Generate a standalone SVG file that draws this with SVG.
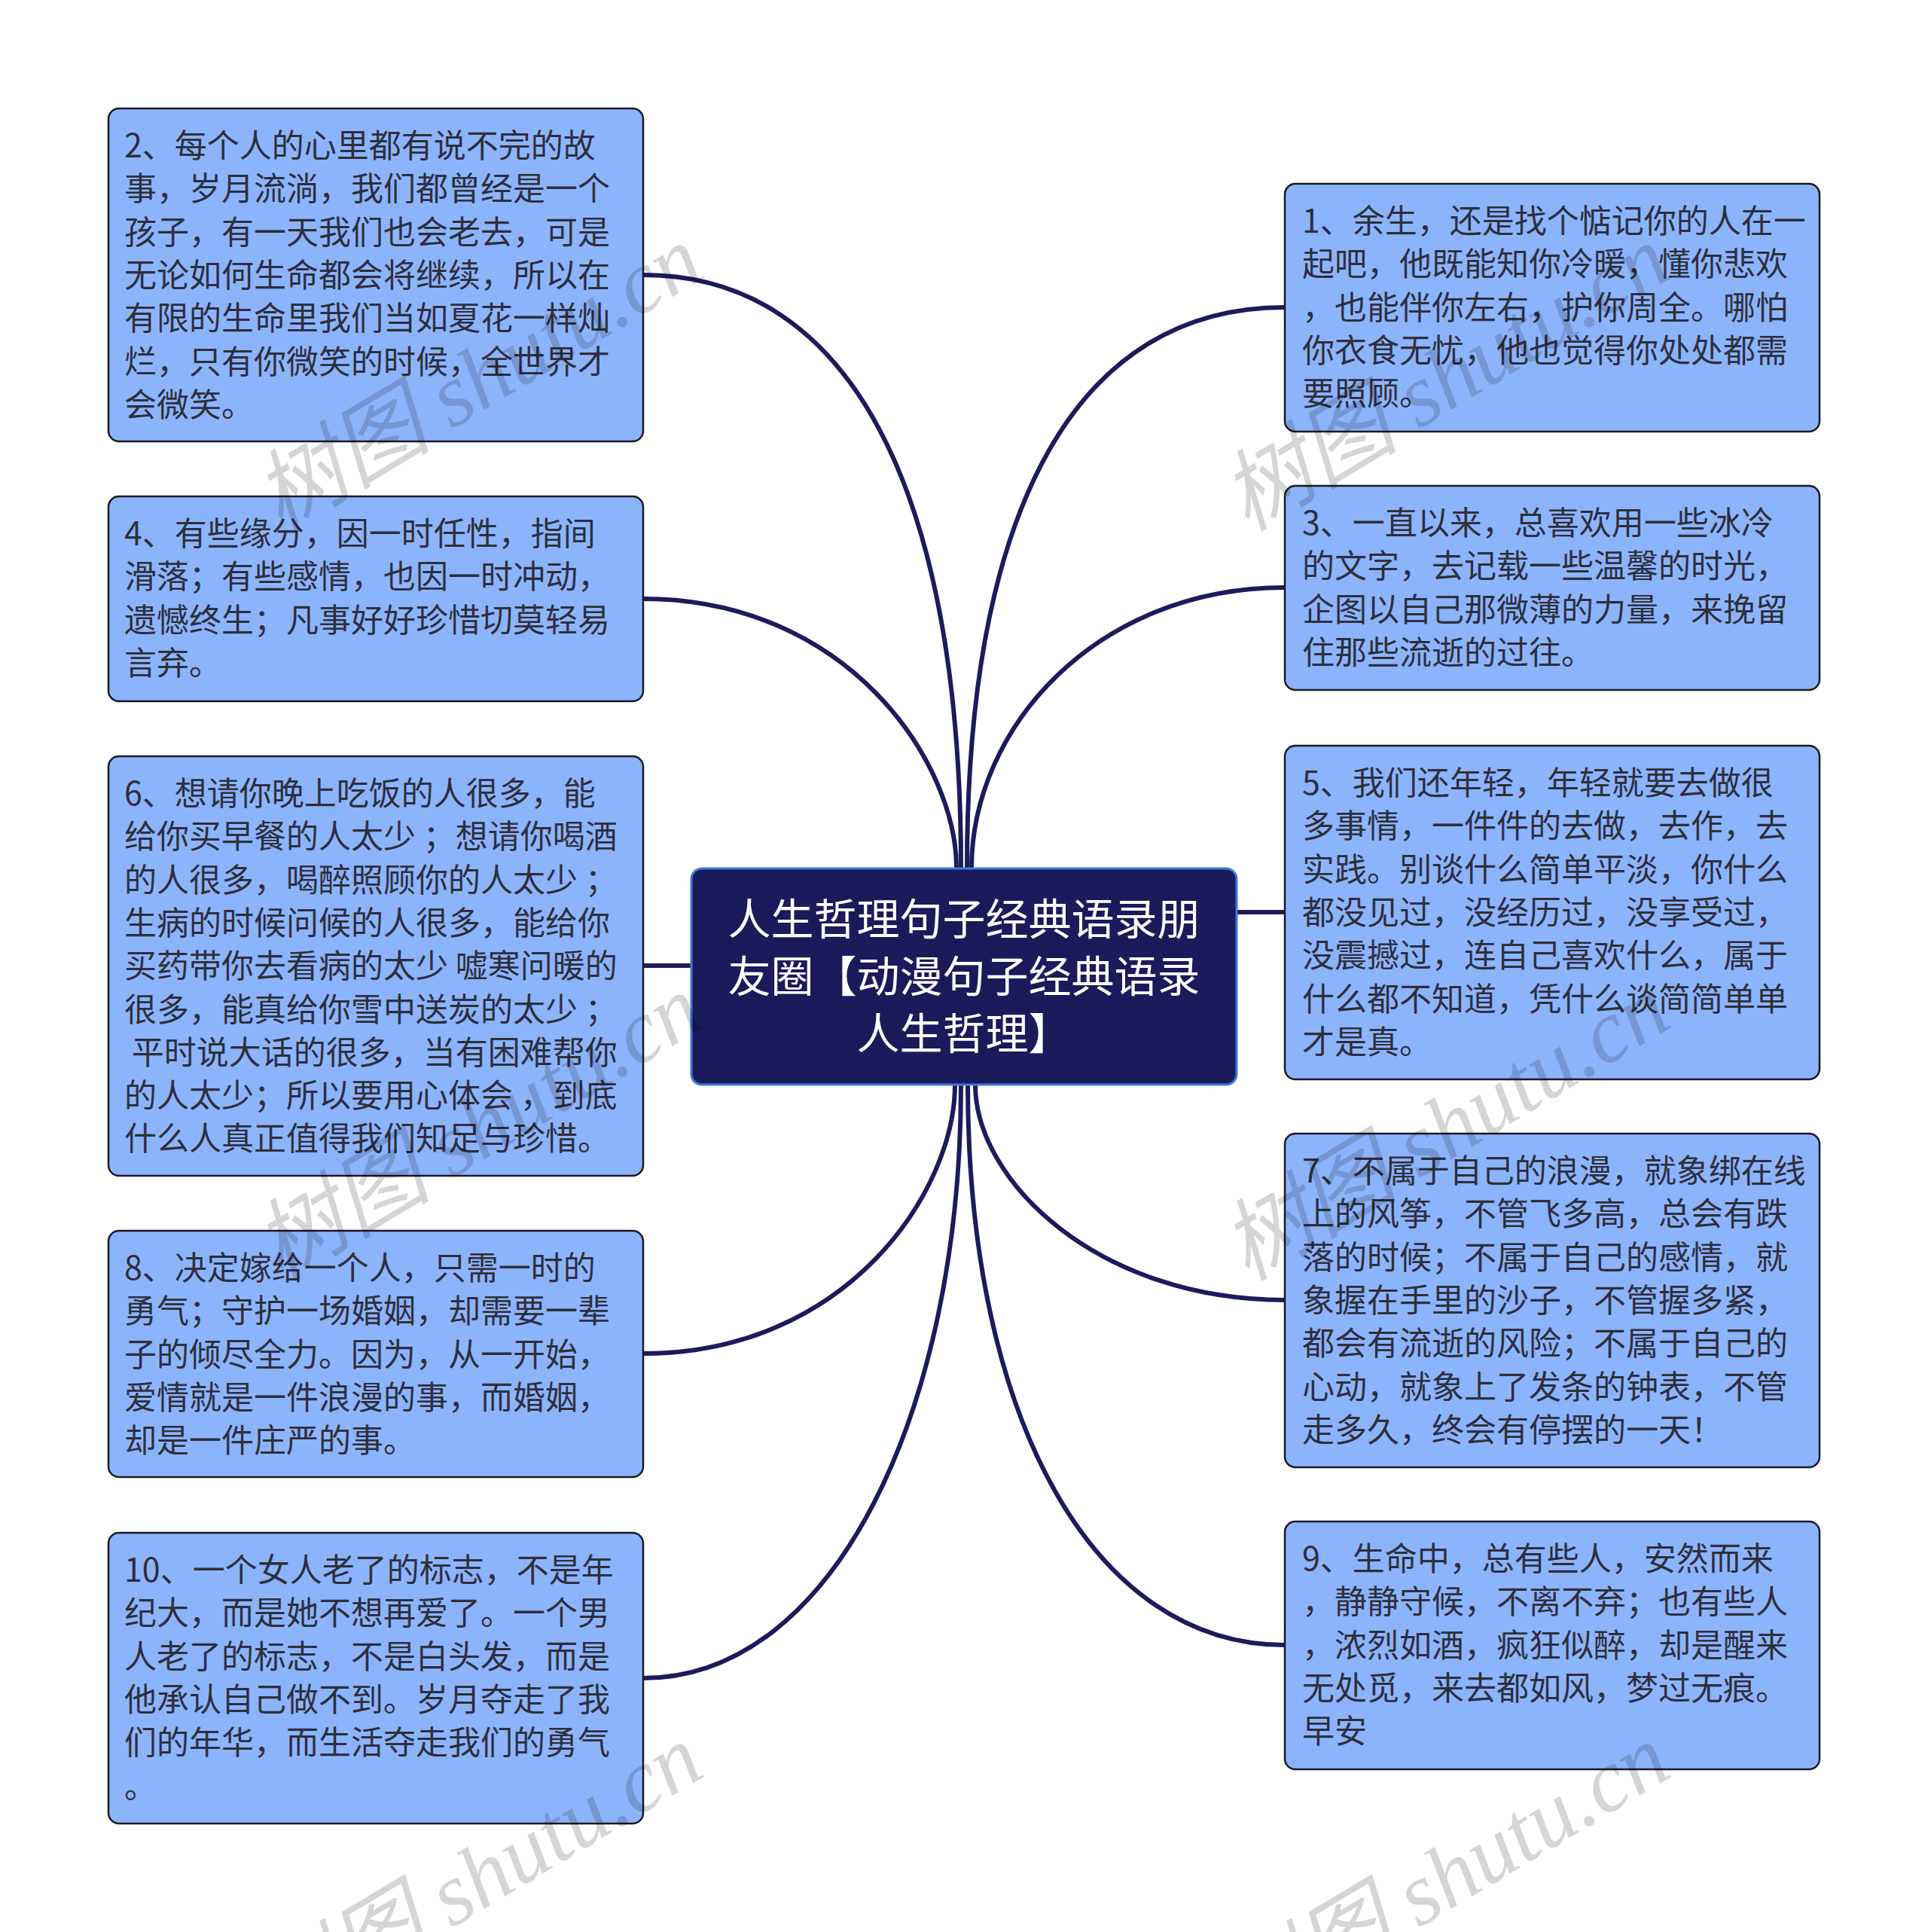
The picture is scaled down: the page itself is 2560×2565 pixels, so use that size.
<svg xmlns="http://www.w3.org/2000/svg" width="2560" height="2565" viewBox="0 0 2560 2565">
<style>
.edge{fill:none;stroke:#1c1b5c;stroke-width:6;stroke-linecap:round}
.box{fill:#8cb4fc;stroke:#1a1a24;stroke-width:2.5}
.t{font-family:"Noto Sans CJK SC","Noto Sans",sans-serif;font-size:43px;fill:#2e2f3c}
.ct{font-family:"Noto Sans CJK SC","Noto Sans",sans-serif;font-size:57px;fill:#ffffff;text-anchor:middle}
.wm{font-family:"Liberation Serif","Noto Sans CJK SC",serif;font-style:italic;font-size:118px;fill:#000;opacity:0.16}
</style>
<rect width="2560" height="2565" fill="#ffffff"/>
<g id="connectors">
<path class="edge" d="M 854 365 C 1128 365, 1276 650, 1276 1153"/>
<path class="edge" d="M 854 795 C 1124 795, 1270 1010, 1270 1153"/>
<path class="edge" d="M 854 1282 L 920 1282"/>
<path class="edge" d="M 854 1797 C 1123 1797, 1268 1583, 1268 1440"/>
<path class="edge" d="M 854 2228 C 1107 2228, 1276 1873, 1276 1440"/>
<path class="edge" d="M 1706 408 C 1432 408, 1284 669, 1284 1153"/>
<path class="edge" d="M 1706 780 C 1456 780, 1290 966, 1290 1153"/>
<path class="edge" d="M 1640 1211 L 1706 1211"/>
<path class="edge" d="M 1706 1726 C 1459 1726, 1295 1569, 1295 1440"/>
<path class="edge" d="M 1706 2184 C 1453 2184, 1285 1886, 1285 1440"/>
</g>
<g id="center">
<rect x="918" y="1153" width="724" height="287" rx="14" fill="#1b1a5b" stroke="#3b7ddd" stroke-width="3"/>
<text class="ct" x="1280" y="1241">人生哲理句子经典语录朋</text>
<text class="ct" x="1280" y="1317">友圈【动漫句子经典语录</text>
<text class="ct" x="1280" y="1393">人生哲理】</text>
</g>
<g id="node2">
<rect class="box" x="144" y="144" width="710" height="442" rx="14"/>
<text class="t" x="165" y="209">2、每个人的心里都有说不完的故</text>
<text class="t" x="165" y="266.3">事，岁月流淌，我们都曾经是一个</text>
<text class="t" x="165" y="323.6">孩子，有一天我们也会老去，可是</text>
<text class="t" x="165" y="380.9">无论如何生命都会将继续，所以在</text>
<text class="t" x="165" y="438.2">有限的生命里我们当如夏花一样灿</text>
<text class="t" x="165" y="495.5">烂，只有你微笑的时候，全世界才</text>
<text class="t" x="165" y="552.8">会微笑。</text>
</g>
<g id="node4">
<rect class="box" x="144" y="659" width="710" height="272" rx="14"/>
<text class="t" x="165" y="724">4、有些缘分，因一时任性，指间</text>
<text class="t" x="165" y="781.3">滑落；有些感情，也因一时冲动，</text>
<text class="t" x="165" y="838.6">遗憾终生；凡事好好珍惜切莫轻易</text>
<text class="t" x="165" y="895.9">言弃。</text>
</g>
<g id="node6">
<rect class="box" x="144" y="1004" width="710" height="557" rx="14"/>
<text class="t" x="165" y="1069">6、想请你晚上吃饭的人很多，能</text>
<text class="t" x="165" y="1126.3">给你买早餐的人太少 ；想请你喝酒</text>
<text class="t" x="165" y="1183.6">的人很多，喝醉照顾你的人太少 ；</text>
<text class="t" x="165" y="1240.9">生病的时候问候的人很多，能给你</text>
<text class="t" x="165" y="1298.2">买药带你去看病的太少 嘘寒问暖的</text>
<text class="t" x="165" y="1355.5">很多，能真给你雪中送炭的太少 ；</text>
<text class="t" x="165" y="1412.8" xml:space="preserve"> 平时说大话的很多，当有困难帮你</text>
<text class="t" x="165" y="1470.1">的人太少；所以要用心体会 ，到底</text>
<text class="t" x="165" y="1527.4">什么人真正值得我们知足与珍惜。</text>
</g>
<g id="node8">
<rect class="box" x="144" y="1634" width="710" height="327" rx="14"/>
<text class="t" x="165" y="1699">8、决定嫁给一个人，只需一时的</text>
<text class="t" x="165" y="1756.3">勇气；守护一场婚姻，却需要一辈</text>
<text class="t" x="165" y="1813.6">子的倾尽全力。因为，从一开始，</text>
<text class="t" x="165" y="1870.9">爱情就是一件浪漫的事，而婚姻，</text>
<text class="t" x="165" y="1928.2">却是一件庄严的事。</text>
</g>
<g id="node10">
<rect class="box" x="144" y="2035" width="710" height="386" rx="14"/>
<text class="t" x="165" y="2100">10、一个女人老了的标志，不是年</text>
<text class="t" x="165" y="2157.3">纪大，而是她不想再爱了。一个男</text>
<text class="t" x="165" y="2214.6">人老了的标志，不是白头发，而是</text>
<text class="t" x="165" y="2271.9">他承认自己做不到。岁月夺走了我</text>
<text class="t" x="165" y="2329.2">们的年华，而生活夺走我们的勇气</text>
<text class="t" x="165" y="2386.5">。</text>
</g>
<g id="node1">
<rect class="box" x="1706" y="244" width="710" height="329" rx="14"/>
<text class="t" x="1729" y="309">1、余生，还是找个惦记你的人在一</text>
<text class="t" x="1729" y="366.3">起吧，他既能知你冷暖，懂你悲欢</text>
<text class="t" x="1729" y="423.6">，也能伴你左右，护你周全。哪怕</text>
<text class="t" x="1729" y="480.9">你衣食无忧，他也觉得你处处都需</text>
<text class="t" x="1729" y="538.2">要照顾。</text>
</g>
<g id="node3">
<rect class="box" x="1706" y="645" width="710" height="271" rx="14"/>
<text class="t" x="1729" y="710">3、一直以来，总喜欢用一些冰冷</text>
<text class="t" x="1729" y="767.3">的文字，去记载一些温馨的时光，</text>
<text class="t" x="1729" y="824.6">企图以自己那微薄的力量，来挽留</text>
<text class="t" x="1729" y="881.9">住那些流逝的过往。</text>
</g>
<g id="node5">
<rect class="box" x="1706" y="990" width="710" height="443" rx="14"/>
<text class="t" x="1729" y="1055">5、我们还年轻，年轻就要去做很</text>
<text class="t" x="1729" y="1112.3">多事情，一件件的去做，去作，去</text>
<text class="t" x="1729" y="1169.6">实践。别谈什么简单平淡，你什么</text>
<text class="t" x="1729" y="1226.9">都没见过，没经历过，没享受过，</text>
<text class="t" x="1729" y="1284.2">没震撼过，连自己喜欢什么，属于</text>
<text class="t" x="1729" y="1341.5">什么都不知道，凭什么谈简简单单</text>
<text class="t" x="1729" y="1398.8">才是真。</text>
</g>
<g id="node7">
<rect class="box" x="1706" y="1505" width="710" height="443" rx="14"/>
<text class="t" x="1729" y="1570">7、不属于自己的浪漫，就象绑在线</text>
<text class="t" x="1729" y="1627.3">上的风筝，不管飞多高，总会有跌</text>
<text class="t" x="1729" y="1684.6">落的时候；不属于自己的感情，就</text>
<text class="t" x="1729" y="1741.9">象握在手里的沙子，不管握多紧，</text>
<text class="t" x="1729" y="1799.2">都会有流逝的风险；不属于自己的</text>
<text class="t" x="1729" y="1856.5">心动，就象上了发条的钟表，不管</text>
<text class="t" x="1729" y="1913.8">走多久，终会有停摆的一天！</text>
</g>
<g id="node9">
<rect class="box" x="1706" y="2020" width="710" height="329" rx="14"/>
<text class="t" x="1729" y="2085">9、生命中，总有些人，安然而来</text>
<text class="t" x="1729" y="2142.3">，静静守候，不离不弃；也有些人</text>
<text class="t" x="1729" y="2199.6">，浓烈如酒，疯狂似醉，却是醒来</text>
<text class="t" x="1729" y="2256.9">无处觅，来去都如风，梦过无痕。</text>
<text class="t" x="1729" y="2314.2">早安</text>
</g>
<g id="watermarks">
<text class="wm" transform="translate(372 707) rotate(-31)">树图 shutu.cn</text>
<text class="wm" transform="translate(1656 707) rotate(-31)">树图 shutu.cn</text>
<text class="wm" transform="translate(372 1702) rotate(-31)">树图 shutu.cn</text>
<text class="wm" transform="translate(1656 1702) rotate(-31)">树图 shutu.cn</text>
<text class="wm" transform="translate(372 2697) rotate(-31)">树图 shutu.cn</text>
<text class="wm" transform="translate(1656 2697) rotate(-31)">树图 shutu.cn</text>
</g>
</svg>
